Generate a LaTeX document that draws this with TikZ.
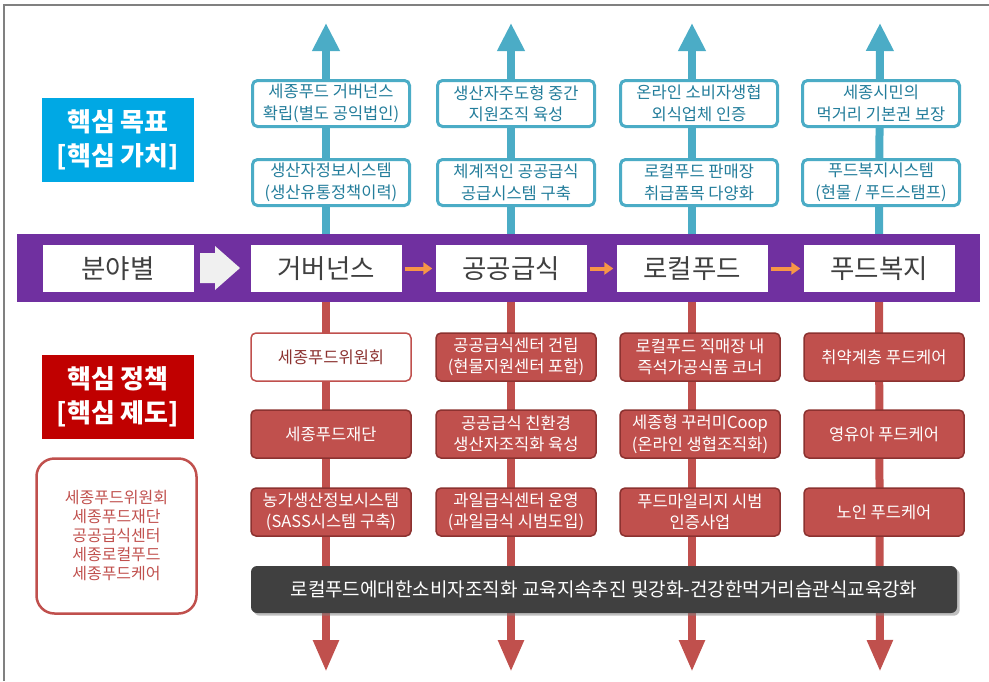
\documentclass[tikz,border=0pt]{standalone}
\usepackage{fontspec}
\setmainfont{Noto Sans CJK KR}
\usepackage{xcolor}
\usepackage{tikz}
\definecolor{goalblue}{RGB}{0,168,228}
\definecolor{policyred}{RGB}{192,0,0}
\definecolor{arrowteal}{RGB}{75,172,198}
\definecolor{textteal}{RGB}{35,125,155}
\definecolor{cardred}{RGB}{192,80,77}
\definecolor{carddark}{RGB}{140,50,48}
\definecolor{bandpurple}{RGB}{112,48,160}
\definecolor{flowOrange}{RGB}{247,150,70}
\definecolor{bardark}{RGB}{64,64,64}
\usetikzlibrary{arrows.meta,positioning,shadows,backgrounds}

\begin{document}
\begin{tikzpicture}[
    x=1pt, y=-1pt,
    goal/.style={rectangle, rounded corners=5pt, draw=arrowteal, line width=3pt, fill=white, minimum width=157pt, minimum height=46pt, inner sep=0pt, align=center, text=textteal, font=\fontsize{16.5}{21.5}\selectfont},
    policy/.style={rectangle, rounded corners=5pt, draw=carddark, line width=1.5pt, fill=cardred, minimum width=160pt, minimum height=48pt, inner sep=0pt, align=center, text=white, font=\fontsize{16.5}{21.5}\selectfont},
    field/.style={rectangle, fill=white, minimum width=151pt, minimum height=47pt, inner sep=0pt, text=bardark, font=\fontsize{26.5}{30}\selectfont},
    tag/.style={rectangle, minimum width=152pt, minimum height=84pt, inner sep=0pt, align=center, text=white, font=\bfseries\fontsize{26}{34}\selectfont},
    up/.style={line width=8pt, arrowteal, -{Triangle[width=26pt,length=28pt]}},
    down/.style={line width=8pt, cardred, -{Triangle[width=24pt,length=32pt]}},
    flow/.style={line width=4pt, flowOrange, shorten <=3pt, shorten >=3pt, -{Triangle[width=12pt,length=9pt]}}
]

\useasboundingbox (0,0) rectangle (989,681);
\draw[gray, line width=1.5pt] (4,681) -- (4,5) -- (989,5);

\node[fill=bandpurple, minimum width=963pt, minimum height=68pt, inner sep=0pt] (band) at (498.5,268) {};
\node[field] (fld) at (118,268.5) {분야별};
\node[field] (gov) at (326,268.5) {거버넌스};
\node[field] (pub) at (511,268.5) {공공급식};
\node[field] (loc) at (692,268.5) {로컬푸드};
\node[field] (wel) at (879,268.5) {푸드복지};

\fill[gray!12] (200,253) -- (215,253) -- (215,246) -- (240,268) -- (215,290) -- (215,283) -- (200,283) -- cycle;
\draw[flow] (gov) -- (pub);
\draw[flow] (pub) -- (loc);
\draw[flow] (loc) -- (wel);

\node[tag, fill=goalblue] (goaltag) at (118,140) {핵심 목표\\ {[}핵심 가치{]}};
\node[tag, fill=policyred] (policytag) at (118,396.5) {핵심 정책\\ {[}핵심 제도{]}};
\node[rectangle, rounded corners=18pt, draw=cardred, line width=2.5pt, minimum width=160pt, minimum height=155pt, align=center, text=cardred, font=\fontsize{16}{19}\selectfont] (orgs) at (116.5,536) {세종푸드위원회\\세종푸드재단\\공공급식센터\\세종로컬푸드\\세종푸드케어};

\node[goal] (govgoal) at (331,103.5) {세종푸드 거버넌스\\확립(별도 공익법인)};
\node[goal] (pubgoal) at (516,103.5) {생산자주도형 중간\\지원조직 육성};
\node[goal] (locgoal) at (699,103.5) {온라인 소비자생협\\외식업체 인증};
\node[goal] (welgoal) at (881,103.5) {세종시민의\\먹거리 기본권 보장};
\node[goal] (govsys) at (331,182.5) {생산자정보시스템\\(생산유통정책이력)};
\node[goal] (pubsys) at (516,182.5) {체계적인 공공급식\\공급시스템 구축};
\node[goal] (locsys) at (699,182.5) {로컬푸드 판매장\\취급품목 다양화};
\node[goal] (welsys) at (881,182.5) {푸드복지시스템\\(현물 / 푸드스탬프)};

\node[policy, fill=white, draw=cardred, text=carddark] (govone) at (331,357) {세종푸드위원회};
\node[policy] (govtwo) at (331,434) {세종푸드재단};
\node[policy] (govthree) at (331,512) {농가생산정보시스템\\(SASS시스템 구축)};
\node[policy] (pubone) at (516,357) {공공급식센터 건립\\(현물지원센터 포함)};
\node[policy] (pubtwo) at (516,434) {공공급식 친환경\\생산자조직화 육성};
\node[policy] (pubthree) at (516,512) {과일급식센터 운영\\(과일급식 시범도입)};
\node[policy] (locone) at (700,357) {로컬푸드 직매장 내\\즉석가공식품 코너};
\node[policy] (loctwo) at (700,434) {세종형 꾸러미Coop\\(온라인 생협조직화)};
\node[policy] (locthree) at (700,512) {푸드마일리지 시범\\인증사업};
\node[policy] (welone) at (884,357) {취약계층 푸드케어};
\node[policy] (weltwo) at (884,434) {영유아 푸드케어};
\node[policy] (welthree) at (884,512) {노인 푸드케어};

\node[fill=bardark, rounded corners=6pt, drop shadow, minimum width=706pt, minimum height=47pt, inner sep=0pt, text=white, font=\fontsize{19}{22}\selectfont] (edu) at (604,589.5) {로컬푸드에대한소비자조직화 교육지속추진 및강화-건강한먹거리습관식교육강화};

\foreach \n/\x in {gov/326, pub/511, loc/692, wel/880} {
    \coordinate (\n top) at (\x,23);
    \coordinate (\n bot) at (\x,672);
}
\begin{scope}[on background layer]
\foreach \n in {gov, pub, loc, wel} {
    \draw[up] (\n.north) -- (\n top);
    \draw[down] (\n.south) -- (\n bot);
}
\end{scope}

\end{tikzpicture}
\end{document}
